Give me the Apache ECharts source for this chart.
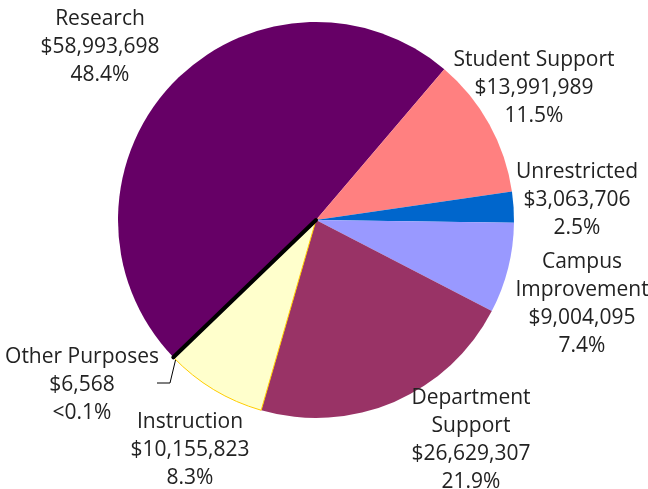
<!DOCTYPE html>
<html>
<head>
<meta charset="utf-8">
<script src="https://cdn.jsdelivr.net/npm/echarts@6/dist/echarts.min.js"></script>
<style>
  html, body { margin: 0; padding: 0; background: #fff; }
  #chart { width: 648px; height: 489px; }
</style>
</head>
<body>
<div id="chart"></div>
<script>
// Funding by purpose, drawn clockwise starting with Research
const categories = ['Research', 'Student Support', 'Unrestricted', 'Campus\nImprovement', 'Department\nSupport', 'Instruction', 'Other Purposes'];
const amounts = [58993698, 13991989, 3063706, 9004095, 26629307, 10155823, 6568];
const percentLabels = ['48.4%', '11.5%', '2.5%', '7.4%', '21.9%', '8.3%', '<0.1%'];
const colors = ['#660066', '#FF8080', '#0066CC', '#9999FF', '#993366', '#FFFFCC', '#000000'];

// Where each label block sits (centre of the text block)
const labelSpots = [[100, 47], [534, 88], [577, 200], [582, 304], [471, 440], [190, 450], [82, 385]];

const chart = echarts.init(document.getElementById('chart'));

const data = categories.map((name, i) => {
  const item = {
    name: name,
    value: amounts[i],
    itemStyle: { color: colors[i] }
  };
  if (i === 5) { item.itemStyle.borderColor = '#FFCC00'; item.itemStyle.borderWidth = 1; }
  if (i === 6) {
    item.itemStyle.borderColor = '#000000';
    item.itemStyle.borderWidth = 4;
    item.labelLine = { show: true, lineStyle: { color: '#000', width: 1 } };
  }
  return item;
});

chart.setOption({
  animation: false,
  series: [{
    type: 'pie',
    center: [316, 220],
    radius: [0, 198],
    startAngle: 223.9,
    clockwise: true,
    avoidLabelOverlap: false,
    data: data,
    label: {
      show: true,
      position: 'outside',
      fontFamily: 'Open Sans',
      fontSize: 21,
      lineHeight: 28,
      color: '#222',
      align: 'center',
      formatter: p => p.name + '\n$' + p.value.toLocaleString('en-US') + '\n' + percentLabels[p.dataIndex]
    },
    labelLine: { show: false },
    labelLayout: p => {
      const s = labelSpots[p.dataIndex];
      const out = { x: s[0], y: s[1], align: 'center', verticalAlign: 'middle' };
      if (p.dataIndex === 6) out.labelLinePoints = [[176, 358], [170, 383], [157, 383]];
      return out;
    },
    emphasis: { disabled: true }
  }]
});
</script>
</body>
</html>
